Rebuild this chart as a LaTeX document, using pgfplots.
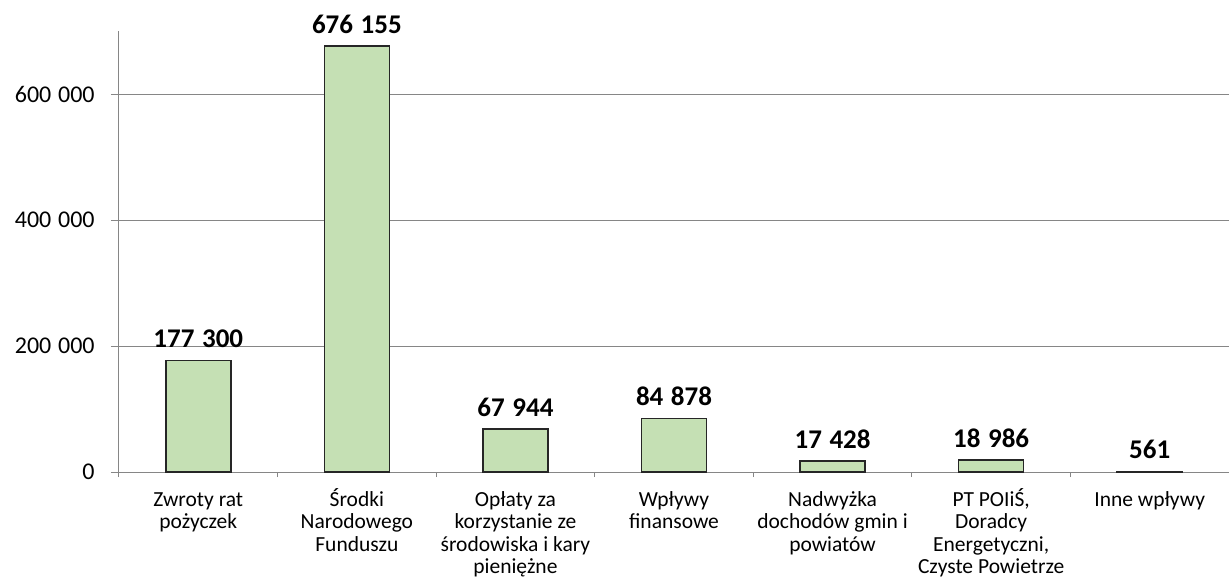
\documentclass[border=0pt]{standalone}
\usepackage{fontspec}
\setmainfont{Carlito}
\usepackage{pgfplots}
\pgfplotsset{compat=1.18}
\definecolor{barfill}{HTML}{C5E0B4}
\definecolor{gridgray}{HTML}{868686}
\newcommand{\lh}{\rule{0pt}{9.5pt}}
\begin{document}
\begin{tikzpicture}
\useasboundingbox (-59.5pt,-53.5pt) rectangle (555pt,236pt);
\begin{axis}[
    scale only axis,
    width=555pt, height=220.5pt,
    at={(0,0)}, anchor=south west,
    ybar, bar width=32.5pt,
    xmin=-0.5, xmax=6.5,
    ymin=0, ymax=700000,
    clip=false,
    axis lines=left,
    axis line style={-, draw=gridgray, line width=0.5pt},
    ymajorgrids,
    grid style={gridgray, line width=0.5pt},
    ytick={0,200000,400000,600000},
    xtick={0,...,6},
    minor xtick={-0.5,0.5,...,6.5},
    tick align=outside,
    major tick length=0pt,
    minor tick length=2.5pt,
    every tick/.style={gridgray, line width=0.5pt},
    extra y ticks={0,200000,400000,600000},
    extra y tick labels={},
    extra y tick style={major tick length=4pt, grid=none},
    scaled y ticks=false,
    /pgf/number format/.cd, 1000 sep={\hspace{0.28em}}, fixed, precision=0, assume math mode=true,
    /pgfplots/.cd,
    yticklabel style={font=\fontsize{12}{14}\selectfont, anchor=east, inner sep=0pt, xshift=-12pt},
    xticklabels={
        {\lh Zwroty rat\\pożyczek},
        {\lh Środki\\Narodowego\\Funduszu},
        {\lh Opłaty za\\korzystanie ze\\środowiska i kary\\pieniężne},
        {\lh Wpływy\\finansowe},
        {\lh Nadwyżka\\dochodów gmin i\\powiatów},
        {\lh PT POIiŚ,\\Doradcy\\Energetyczni,\\Czyste Powietrze},
        {\lh Inne wpływy}},
    xticklabel style={font=\fontsize{10.75}{11.3}\selectfont, align=center, anchor=north, inner sep=0pt, yshift=-7.35pt},
    nodes near coords={\pgfmathprintnumber{\pgfplotspointmeta}},
    every node near coord/.append style={font=\fontsize{13.5}{15}\selectfont\bfseries, anchor=south, inner sep=0pt, yshift=6pt},
]
\addplot[fill=barfill, draw=black!85, line width=0.75pt] coordinates {
    (0,177300)
    (1,676155)
    (2,67944)
    (3,84878)
    (4,17428)
    (5,18986)
    (6,561)
};
\end{axis}
\end{tikzpicture}
\end{document}
